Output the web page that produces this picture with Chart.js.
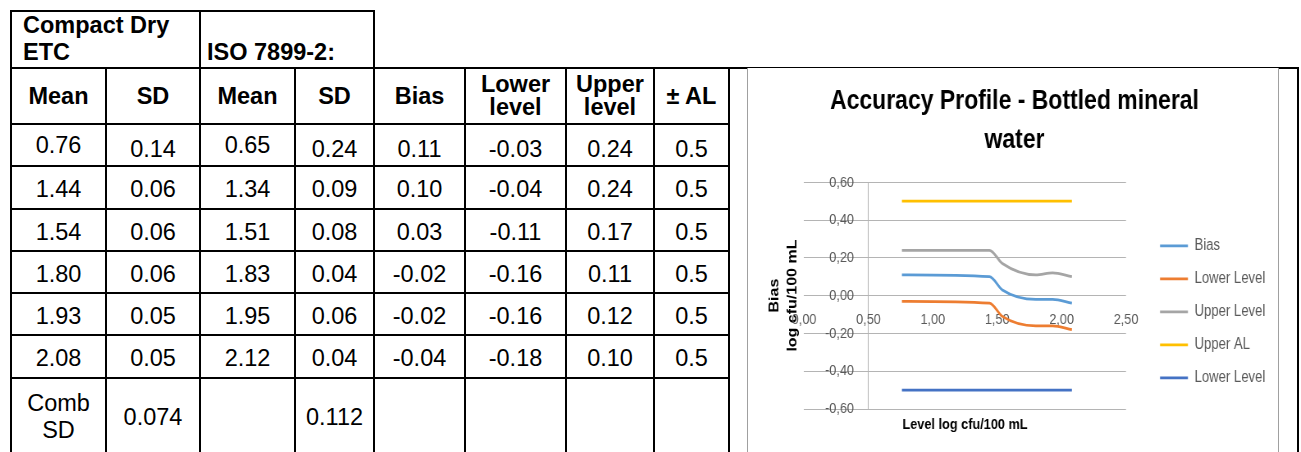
<!DOCTYPE html>
<html lang="en">
<head>
<meta charset="UTF-8">
<title>Accuracy Profile - Bottled mineral water</title>
<script src="https://cdn.jsdelivr.net/npm/chart.js"></script>
<style>
  html, body { margin: 0; padding: 0; overflow: hidden; background: #fff; }
  body { width: 1301px; height: 452px; position: relative; font-family: 'Liberation Sans', Arial, sans-serif; color: #000; }
  table { position: absolute; left: 10px; top: 10px; border-collapse: collapse; table-layout: fixed; }
  td { border: 2px solid #000; padding: 4px 0 0 0; text-align: center; vertical-align: middle;
       font-size: 23.5px; line-height: 27px; overflow: hidden; white-space: nowrap; }
  tr.head td { font-weight: bold; padding-top: 0; }
  tr.head td.two { line-height: 23px; }
  td.corner { font-weight: bold; text-align: left; vertical-align: top; padding: 0 0 0 11px; }
  td.iso { font-weight: bold; text-align: left; vertical-align: bottom; padding: 0 0 1px 6px; }
  td.blank { border-top: none; border-right: none; }
  td.up { padding-top: 1px; }
  td.down { padding-top: 8px; }
  td.comb { padding-top: 0; }
  #frame { position: absolute; left: 747px; top: 68px; width: 530px; height: 384px;
           border-left: 1px solid #a0a0a0; border-right: 1px solid #a0a0a0; overflow: hidden; background: #fff; }
  #frame canvas { display: block; }
</style>
</head>
<body>

<table>
  <colgroup>
    <col style="width:95px"><col style="width:94px"><col style="width:95px"><col style="width:79px">
    <col style="width:91px"><col style="width:101px"><col style="width:88px"><col style="width:75px">
    <col style="width:569px">
  </colgroup>
  <tbody id="rows">
    <tr style="height:57px">
      <td class="corner" colspan="2">Compact Dry<br>ETC</td>
      <td class="iso" colspan="2">ISO 7899-2:</td>
      <td class="blank" colspan="5"></td>
    </tr>
    <tr class="head" style="height:56px">
      <td>Mean</td><td>SD</td><td>Mean</td><td>SD</td><td>Bias</td>
      <td class="two">Lower<br>level</td><td class="two">Upper<br>level</td><td>± AL</td>
      <td rowspan="8"></td>
    </tr>
  </tbody>
</table>

<div id="frame">
  <!-- o grafico original esta achatado na horizontal: desenha em 646px e mostra em 530px -->
  <canvas id="accuracyChart" width="646" height="384" style="width:530px;height:384px"></canvas>
</div>

<script>
  // valores da tabela (Compact Dry ETC x ISO 7899-2)
  const compactMean = [0.76, 1.44, 1.54, 1.80, 1.93, 2.08];
  const compactSD = [0.14, 0.06, 0.06, 0.06, 0.05, 0.05];
  const isoMean = [0.65, 1.34, 1.51, 1.83, 1.95, 2.12];
  const isoSD = [0.24, 0.09, 0.08, 0.04, 0.06, 0.04];
  const bias = [0.11, 0.10, 0.03, -0.02, -0.02, -0.04];
  const lowerLevel = [-0.03, -0.04, -0.11, -0.16, -0.16, -0.18];
  const upperLevel = [0.24, 0.24, 0.17, 0.11, 0.12, 0.10];
  const upperAL = [0.5, 0.5, 0.5, 0.5, 0.5, 0.5];
  const lowerAL = [-0.5, -0.5, -0.5, -0.5, -0.5, -0.5];
  const combSD = ['0.074', '', '0.112'];
  const rowHeights = [42, 43, 42, 42, 42, 43];

  // series do grafico
  const seriesNames = ['Bias', 'Lower Level', 'Upper Level', 'Upper AL', 'Lower Level'];
  const seriesValues = [bias, lowerLevel, upperLevel, upperAL, lowerAL];
  const seriesColors = ['#5B9BD5', '#ED7D31', '#A5A5A5', '#FFC000', '#4472C4'];

  const sans = "'Liberation Sans', Arial, sans-serif";
  const gridColor = '#b4b4b4';
  const tickColor = '#595959';

  // monta as linhas da tabela
  const tbody = document.getElementById('rows');
  compactMean.forEach((m, i) => {
    const tr = document.createElement('tr');
    tr.style.height = rowHeights[i] + 'px';
    const cells = [m, compactSD[i], isoMean[i], isoSD[i], bias[i], lowerLevel[i], upperLevel[i]]
      .map(v => v.toFixed(2));
    cells.push(upperAL[i].toFixed(1));
    cells.forEach((txt, c) => {
      const td = document.createElement('td');
      td.textContent = txt;
      if (i === 0) td.className = (c === 0 || c === 2) ? 'up' : 'down';
      tr.appendChild(td);
    });
    tbody.appendChild(tr);
  });

  const lastRow = document.createElement('tr');
  lastRow.style.height = '78px';
  const first = document.createElement('td');
  first.className = 'comb';
  first.innerHTML = 'Comb<br>SD';
  lastRow.appendChild(first);
  for (let c = 0; c < 7; c++) {
    const td = document.createElement('td');
    td.className = 'comb';
    td.textContent = combSD[c] || '';
    lastRow.appendChild(td);
  }
  tbody.appendChild(lastRow);

  const commaFmt = (value) => {
    const v = Math.abs(value) < 1e-9 ? 0 : value;
    return v.toFixed(2).replace('.', ',');
  };

  const datasets = seriesNames.map((name, s) => ({
    label: name,
    data: compactMean.map((x, i) => ({ x: x, y: seriesValues[s][i] })),
    borderColor: seriesColors[s],
    backgroundColor: seriesColors[s],
    borderWidth: 2.75,
    pointRadius: 0,
    showLine: true,
    cubicInterpolationMode: 'monotone',
    xAxisID: 'x',
    yAxisID: 'y'
  }));

  const ctx = document.getElementById('accuracyChart');
  new Chart(ctx, {
    type: 'scatter',
    data: { datasets: datasets },
    options: {
      responsive: false,
      animation: false,
      layout: { padding: { left: 9.1, right: 5.5, top: 0, bottom: 13.7 } },
      plugins: {
        title: {
          display: true,
          text: ['Accuracy Profile - Bottled mineral', 'water'],
          color: '#000',
          font: { family: sans, size: 28, weight: 'bold', lineHeight: 1.37 },
          padding: { top: 14.5, bottom: 23 }
        },
        legend: {
          position: 'right',
          fullSize: false,
          maxWidth: 300,
          title: { display: true, text: ' ', font: { size: 10, lineHeight: 1.2 }, padding: 10.35 },
          labels: {
            usePointStyle: true,
            pointStyle: 'line',
            pointStyleWidth: 34,
            boxWidth: 34,
            padding: 17,
            color: tickColor,
            font: { family: sans, size: 16 }
          }
        },
        tooltip: { enabled: false }
      },
      scales: {
        x: {
          type: 'linear',
          position: { y: 0 },
          min: 0,
          max: 2.5,
          border: { display: false },
          grid: {
            drawTicks: false,
            color: (c) => (c.tick && c.tick.value === 0.5) ? gridColor : 'rgba(0,0,0,0)'
          },
          ticks: {
            stepSize: 0.5,
            padding: 15,
            maxRotation: 0,
            color: tickColor,
            font: { family: sans, size: 15.5 },
            callback: commaFmt
          }
        },
        y: {
          type: 'linear',
          position: 'left',
          min: -0.6,
          max: 0.6,
          border: { display: false },
          grid: { drawTicks: false, color: gridColor },
          ticks: {
            stepSize: 0.2,
            mirror: true,
            crossAlign: 'far',
            padding: 25.6,
            color: tickColor,
            font: { family: sans, size: 15.5 },
            callback: commaFmt
          },
          title: {
            display: true,
            text: ['Bias', 'log cfu/100 mL'],
            color: '#000',
            font: { family: sans, size: 16, weight: 'bold', lineHeight: 1.375 },
            padding: { top: 12.8, bottom: 2.4 }
          },
          afterFit: (scale) => { scale.width = 59.2; }
        },
        xt: {
          type: 'linear',
          position: 'bottom',
          border: { display: false },
          grid: { display: false, drawTicks: false },
          ticks: { display: false },
          title: {
            display: true,
            text: 'Level log cfu/100 mL',
            color: '#000',
            font: { family: sans, size: 15.5, weight: 'bold', lineHeight: 1.2 },
            padding: { top: 6.7, bottom: 4 }
          }
        },
        yr: {
          type: 'linear',
          position: 'right',
          border: { display: false },
          grid: { display: false, drawTicks: false },
          ticks: { display: false },
          afterFit: (scale) => { scale.width = 24.5; }
        }
      }
    }
  });
</script>

</body>
</html>
